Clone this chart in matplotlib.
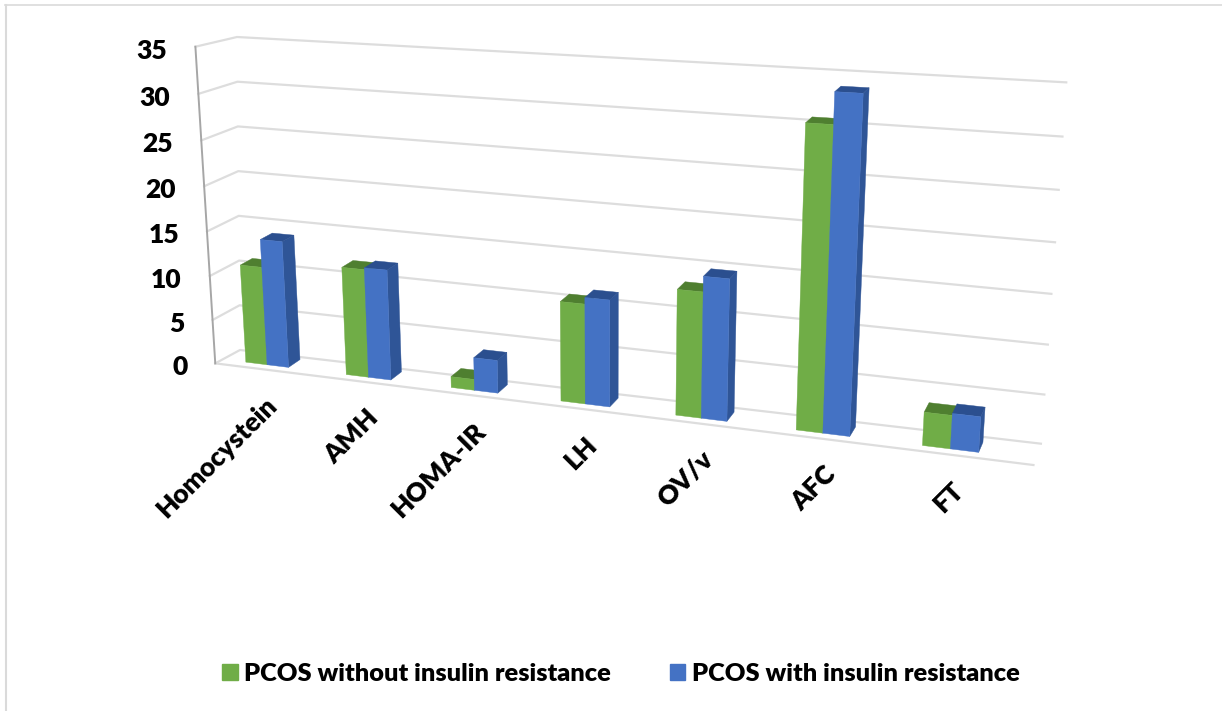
import numpy as np
import matplotlib
matplotlib.use("Agg")
import matplotlib.pyplot as plt
from matplotlib.patches import Patch


categories=["Homocystein","AMH","HOMA-IR","LH","OV/v","AFC","FT"]
without_ir=[11.1,12,1.2,10.7,13.2,30.7,3.4]
with_ir=[14.2,12.2,3.6,11.4,14.8,33.8,3.6]
series_names=["PCOS without insulin resistance","PCOS with insulin resistance"]
y_ticks=[0,5,10,15,20,25,30,35]

# colours: front, side, top
GREEN=("#70AD47","#5E9339","#4F7F30")
BLUE=("#4472C4","#2F5597","#2B4F8F")
GRID="#DDDDDD"

# camera: box corners (category, depth, value) -> pixel
X_END=7.1
CALIB=[
	((0,0,0),(216,363)),
	((0,0,15),(207,228)),
	((0,0,35),(195,48)),
	((0,1,0),(240,350)),
	((X_END,1,0),(1040,441)),
	((X_END,1,15),(1053,293)),
	((X_END,1,35),(1066,83)),
	((X_END,0,0),(1033,468)),
]
# the wall's back edge does not follow the camera in the picture
WALL_BACK=((240,350),(237,37))
BAR_W=0.215
DEPTH=(0.26,0.74)


def _fit_camera(calib):
	a=[]
	b=[]
	for (x,y,z),(u,v) in calib:
		a.append([x,y,z,1,0,0,0,0,-u*x,-u*y,-u*z])
		b.append(u)
		a.append([0,0,0,0,x,y,z,1,-v*x,-v*y,-v*z])
		b.append(v)
	m=np.linalg.lstsq(np.array(a,float),np.array(b,float),rcond=None)[0]
	return np.append(m,1).reshape(3,4)


CAM=_fit_camera(CALIB)


def proj(x,y,z):
	p=CAM@np.array([x,y,z,1.0])
	return p[0]/p[2],p[1]/p[2]


def _face(ax,pts,color):
	xy=[proj(*e) for e in pts]
	ax.fill([e[0] for e in xy],[e[1] for e in xy],color=color,lw=0.3,zorder=3)


def _bar(ax,x0,x1,h,colors):
	y0,y1=DEPTH
	_face(ax,[(x1,y0,0),(x1,y1,0),(x1,y1,h),(x1,y0,h)],colors[1])
	_face(ax,[(x0,y0,h),(x1,y0,h),(x1,y1,h),(x0,y1,h)],colors[2])
	_face(ax,[(x0,y0,0),(x1,y0,0),(x1,y0,h),(x0,y0,h)],colors[0])


def _wall_corner(t):
	k=t/35
	return (WALL_BACK[0][0]+(WALL_BACK[1][0]-WALL_BACK[0][0])*k,WALL_BACK[0][1]+(WALL_BACK[1][1]-WALL_BACK[0][1])*k)


plt.rcParams["font.family"]=["Lato","DejaVu Sans"]
plt.rcParams["font.weight"]=800
fig=plt.figure(figsize=(12.22,7.11),dpi=100)
ax=fig.add_axes([0,0,1,1])
ax.set_xlim(0,1222)
ax.set_ylim(711,0)
ax.axis("off")

# page frame
ax.plot([5.5,5.5],[711,5],color="#DADADA",lw=1.5)
ax.plot([5,1222],[5,5],color="#DADADA",lw=1.2)

for t in y_ticks:
	c=_wall_corner(t)
	ax.plot(*zip(proj(0,0,t),c,proj(X_END,1,t)),color=GRID,lw=1.6)
	u,v=proj(0,0,t)
	ax.text(u-28,v+4,str(t),ha="right",va="center",fontsize=19,color="black")
ax.plot(*zip(proj(0,0,0),proj(X_END,0,0)),color=GRID,lw=1.6)
ax.plot(*zip(proj(0,0,0),proj(0,0,35)),color="#A6A6A6",lw=1.4)

for i,cat in enumerate(categories):
	c=i+0.46
	_bar(ax,c-BAR_W,c,without_ir[i],GREEN)
	_bar(ax,c,c+BAR_W,with_ir[i],BLUE)
	u,v=proj(c,0,0)
	ax.text(u+12,v+32,cat,rotation=45,rotation_mode="anchor",ha="right",va="center",fontsize=19,color="black")

handles=[Patch(color=GREEN[0]),Patch(color=BLUE[0])]
ax.legend(handles,series_names,ncol=2,frameon=False,fontsize=18.3,loc="center",bbox_to_anchor=(621,674),bbox_transform=ax.transData,handlelength=0.62,handleheight=0.62,handletextpad=0.27,columnspacing=2.3)

fig.savefig("out.png",dpi=100)
